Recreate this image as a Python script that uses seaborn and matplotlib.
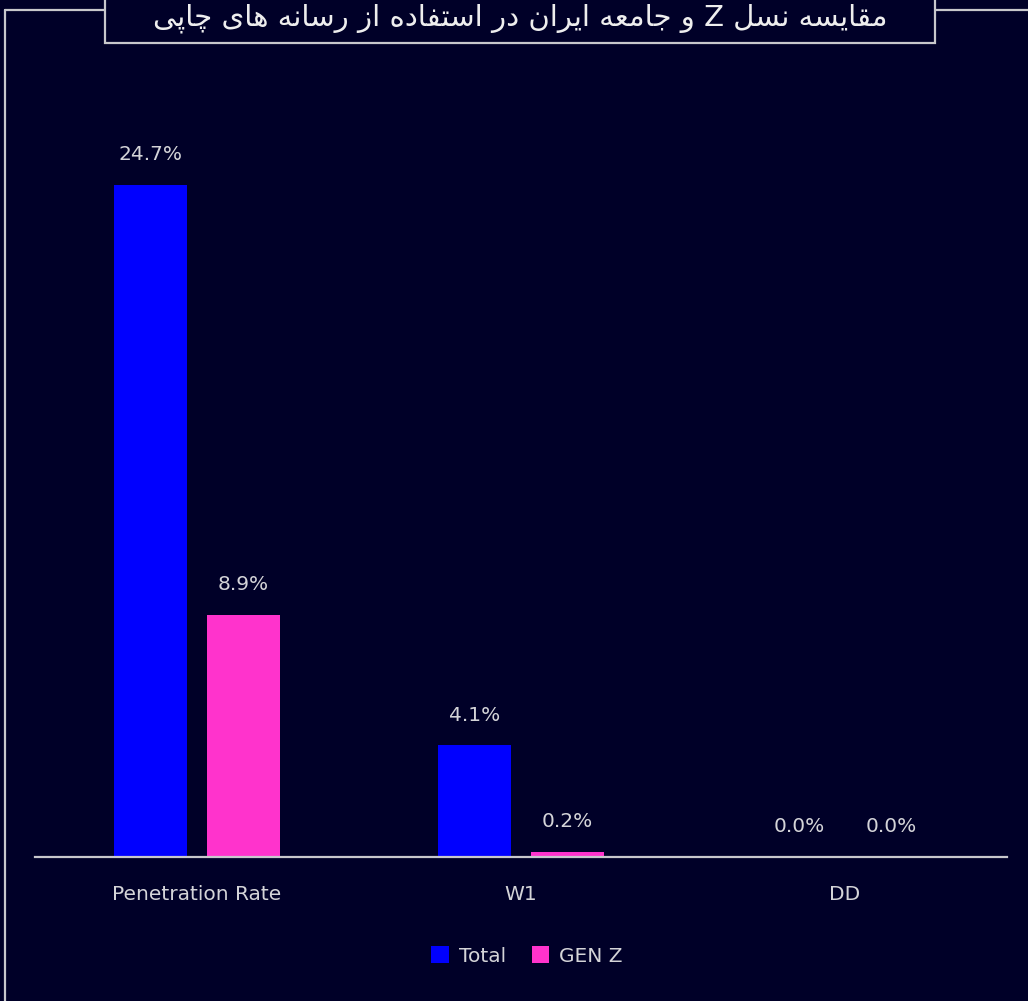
import matplotlib
matplotlib.use("Agg")
import matplotlib.pyplot as plt
from matplotlib.patches import Rectangle
from matplotlib.lines import Line2D
import seaborn as sns
import pandas as pd

# ---------------- data ----------------
categories = ["Penetration Rate", "W1", "DD"]
total_values = [24.7, 4.1, 0.0]
genz_values = [8.9, 0.2, 0.0]
series_names = ["Total", "GEN Z"]
title_text = "مقایسه نسل Z و جامعه ایران در استفاده از رسانه های چاپی"

# ---------------- simple Persian shaping (presentation forms + RTL) ----------------
FORMS = {  # iso, fin, ini, med  (None for right-joining letters)
    "ا": ("\uFE8D", "\uFE8E", None, None),
    "د": ("\uFEA9", "\uFEAA", None, None),
    "ر": ("\uFEAD", "\uFEAE", None, None),
    "ز": ("\uFEAF", "\uFEB0", None, None),
    "و": ("\uFEED", "\uFEEE", None, None),
    "پ": ("\uFB56", "\uFB57", "\uFB58", "\uFB59"),
    "ت": ("\uFE95", "\uFE96", "\uFE97", "\uFE98"),
    "ج": ("\uFE9D", "\uFE9E", "\uFE9F", "\uFEA0"),
    "چ": ("\uFB7A", "\uFB7B", "\uFB7C", "\uFB7D"),
    "س": ("\uFEB1", "\uFEB2", "\uFEB3", "\uFEB4"),
    "ع": ("\uFEC9", "\uFECA", "\uFECB", "\uFECC"),
    "ف": ("\uFED1", "\uFED2", "\uFED3", "\uFED4"),
    "ق": ("\uFED5", "\uFED6", "\uFED7", "\uFED8"),
    "ل": ("\uFEDD", "\uFEDE", "\uFEDF", "\uFEE0"),
    "م": ("\uFEE1", "\uFEE2", "\uFEE3", "\uFEE4"),
    "ن": ("\uFEE5", "\uFEE6", "\uFEE7", "\uFEE8"),
    "ه": ("\uFEE9", "\uFEEA", "\uFEEB", "\uFEEC"),
    "ی": ("\uFBFC", "\uFBFD", "\uFBFE", "\uFBFF"),
}


def dual(c):
    return c in FORMS and FORMS[c][2] is not None


def shape(text):
    out = []
    for i, c in enumerate(text):
        if c not in FORMS:
            out.append(c)
            continue
        prev = text[i - 1] if i > 0 else ""
        nxt = text[i + 1] if i + 1 < len(text) else ""
        jp = dual(prev)
        jn = dual(c) and nxt in FORMS
        iso, fin, ini, med = FORMS[c]
        if jp and jn:
            out.append(med)
        elif jp:
            out.append(fin)
        elif jn:
            out.append(ini)
        else:
            out.append(iso)
    return "".join(out)[::-1]


# ---------------- style ----------------
BG = "#000028"
TXT = "#d4d4d8"
LINE = "#c8c8cc"
sns.set_theme(style="dark")
plt.rcParams["font.family"] = ["DejaVu Sans"]

df = pd.DataFrame({
    "Category": categories * 2,
    "Series": [series_names[0]] * len(categories) + [series_names[1]] * len(categories),
    "Value": total_values + genz_values,
})

W, H = 1028, 1001
fig = plt.figure(figsize=(W / 100, H / 100), dpi=100, facecolor=BG)
ax = fig.add_axes([35 / W, 1 - 857 / H, 972 / W, (857 - 109) / H])
ax.set_facecolor(BG)

sns.barplot(data=df, x="Category", y="Value", hue="Series", order=categories,
            hue_order=series_names, palette=["#0000FF", "#FF33CC"],
            width=0.57, gap=0.21, saturation=1, linewidth=0, edgecolor="none",
            ax=ax, legend=True)

for cont in ax.containers:
    ax.bar_label(cont, fmt="%.1f%%", padding=15, color=TXT, fontsize=14.5)

ax.set_xlim(-0.5, 2.5)
ax.set_ylim(0, 27.5)
ax.set_xlabel("")
ax.set_ylabel("")
ax.set_yticks([])
ax.tick_params(axis="x", length=0, pad=20, colors=TXT, labelsize=14.5)
for s in ["top", "left", "right"]:
    ax.spines[s].set_visible(False)
ax.spines["bottom"].set_color(LINE)
ax.spines["bottom"].set_linewidth(1.6)
ax.grid(False)

leg = ax.legend(loc="center", bbox_to_anchor=(527 / W, 1 - 956 / H),
                bbox_transform=fig.transFigure, ncol=2, frameon=False,
                handlelength=0.85, handleheight=0.85, handletextpad=0.5,
                columnspacing=1.3, fontsize=14.5)
for t in leg.get_texts():
    t.set_color(TXT)
for h in leg.legend_handles:
    h.set_edgecolor("none")
    h.set_linewidth(0)

# frame lines
fig.add_artist(Line2D([5 / W, 5 / W], [0, 1 - 10 / H], transform=fig.transFigure,
                      color=LINE, lw=1.6))
fig.add_artist(Line2D([5 / W, 1], [1 - 10 / H, 1 - 10 / H], transform=fig.transFigure,
                      color=LINE, lw=1.6))
# title box
fig.add_artist(Rectangle((105 / W, 1 - 43 / H), 830 / W, 60 / H, transform=fig.transFigure,
                         facecolor=BG, edgecolor=LINE, lw=1.6, zorder=5))
fig.text(520 / W, 1 - 18 / H, shape(title_text), ha="center", va="center",
         color="#eeeeee", fontsize=21, zorder=6)

fig.savefig("out.png", dpi=100, facecolor=BG)
